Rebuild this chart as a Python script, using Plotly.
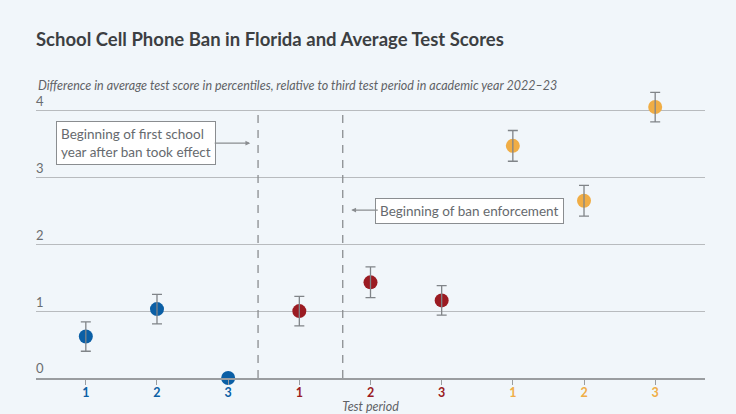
import plotly.graph_objects as go

# ---- data ----
x_labels = ["1", "2", "3", "1", "2", "3", "1", "2", "3"]
groups = ["2022-23", "2023-24", "2024-25"]
group_colors = ["#0b5fa5", "#9b1b22", "#f0ad45"]
values_2223 = [0.62, 1.03, 0.0]
errors_2223 = [0.22, 0.22, 0.0]
values_2324 = [1.00, 1.43, 1.16]
errors_2324 = [0.22, 0.23, 0.22]
values_2425 = [3.47, 2.65, 4.05]
errors_2425 = [0.23, 0.23, 0.22]
y_ticks = [0, 1, 2, 3, 4]
line_first_year = 2.42
line_enforcement = 3.61

series = [values_2223, values_2324, values_2425]
errs = [errors_2223, errors_2324, errors_2425]

fig = go.Figure()
for gi, (vals, ers) in enumerate(zip(series, errs)):
    xs = [gi * 3 + i for i in range(3)]
    fig.add_trace(go.Scatter(
        x=xs, y=vals, mode="markers",
        marker=dict(color=group_colors[gi], size=14, line=dict(width=0)),
        cliponaxis=False, showlegend=False, hoverinfo="skip",
    ))
    ex, ey, ee = [], [], []
    for xv, v, e in zip(xs, vals, ers):
        if e > 0:
            ex.append(xv); ey.append(v); ee.append(e)
    fig.add_trace(go.Scatter(
        x=ex, y=ey, mode="markers", marker=dict(size=1, opacity=0),
        error_y=dict(type="data", array=ee, color="#808488", thickness=1.3, width=5),
        cliponaxis=False, showlegend=False, hoverinfo="skip",
    ))

tick_text = [
    f'<span style="color:{group_colors[i // 3]}"><b>{lab}</b></span>'
    for i, lab in enumerate(x_labels)
]

for xv in (line_first_year, line_enforcement):
    fig.add_shape(type="line", xref="x", yref="y", x0=xv, x1=xv, y0=0, y1=4,
                  line=dict(color="#8a8d90", width=1.3, dash="8px,7px"))

font_main = "Lato, 'Noto Sans', sans-serif"
box_font = dict(size=13.5, color="#666a6e", family=font_main)

fig.add_annotation(
    x=0.70, y=3.51, xref="x", yref="y",
    text="Beginning of first school<br>year after ban took effect",
    showarrow=False, align="left", font=box_font,
    bgcolor="#ffffff", bordercolor="#8a8d90", borderwidth=1, borderpad=4,
)
fig.add_annotation(
    x=2.31, y=3.51, xref="x", yref="y", text="", showarrow=True,
    ax=-37, ay=0, arrowhead=2, arrowsize=0.8, arrowwidth=1.2, arrowcolor="#8a8d90",
)
fig.add_annotation(
    x=5.39, y=2.50, xref="x", yref="y",
    text="Beginning of ban enforcement",
    showarrow=False, align="left", font=box_font,
    bgcolor="#ffffff", bordercolor="#8a8d90", borderwidth=1, borderpad=4,
)
fig.add_annotation(
    x=3.73, y=2.51, xref="x", yref="y", text="", showarrow=True,
    ax=28, ay=0, arrowhead=2, arrowsize=0.8, arrowwidth=1.2, arrowcolor="#8a8d90",
)

fig.add_annotation(
    xref="paper", x=0.0, yref="y", y=4.0, yshift=25,
    xanchor="left", yanchor="middle",
    text="<i>Difference in average test score in percentiles, relative to third test period in academic year 2022–23</i>",
    showarrow=False, font=dict(size=12.5, color="#5f6266", family=font_main),
)

fig.update_layout(
    width=736, height=414,
    paper_bgcolor="#f1f6fa", plot_bgcolor="#f1f6fa",
    margin=dict(l=36, r=31, t=86.5, b=36),
    title=dict(
        text="<b>School Cell Phone Ban in Florida and Average Test Scores</b>",
        xref="container", yref="container", x=36 / 736, y=1 - 40 / 414,
        xanchor="left", yanchor="middle",
        font=dict(size=18.5, color="#3c3f42", family=font_main),
    ),
    xaxis=dict(
        range=[-0.7, 8.7], tickmode="array", tickvals=list(range(9)), ticktext=tick_text,
        showgrid=False, zeroline=False, showline=True, linecolor="#9a9da0", linewidth=1.5,
        ticks="outside", ticklen=5, tickcolor="#9a9da0", automargin=False,
        ticklabelstandoff=-3,
        tickfont=dict(size=12.5, family=font_main),
        title=dict(text="<i>Test period</i>", standoff=7,
                   font=dict(size=12.5, color="#5f6266", family=font_main)),
    ),
    yaxis=dict(
        range=[0, 4.35], tickmode="array", tickvals=y_ticks, automargin=False,
        ticklabelposition="inside top", ticklabelstandoff=-3,
        showgrid=True, gridcolor="#b8bbbe", gridwidth=1,
        zeroline=False, showline=False, ticks="",
        tickfont=dict(size=13, color="#6a6d70", family=font_main),
    ),
)

fig.write_html(
    "out.html",
    config={"displayModeBar": False},
    post_script="document.body.style.margin='0';document.body.style.overflow='hidden';",
)
